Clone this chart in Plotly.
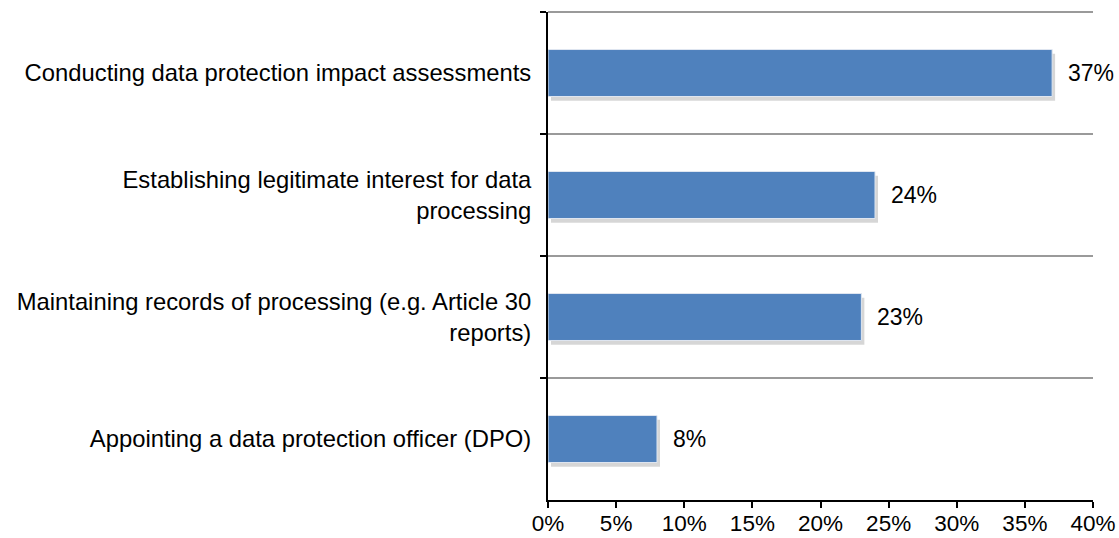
import plotly.graph_objects as go

# Survey answers, top to bottom as shown in the chart
categories = [
    "Conducting data protection impact assessments",
    "Establishing legitimate interest for data<br>processing",
    "Maintaining records of processing (e.g. Article 30<br>reports)",
    "Appointing a data protection officer (DPO)",
]
values = [37, 24, 23, 8]
x_ticks = [0, 5, 10, 15, 20, 25, 30, 35, 40]
x_tick_labels = [str(t) + "%" for t in x_ticks]

BAR_BLUE = "#4F81BD"
GRID_GRAY = "#9a9a9a"
FONT = "Liberation Sans, Arial, sans-serif"
BAR_W = 0.385

fig = go.Figure()

# soft drop shadow under each bar, nudged down and right
fig.add_trace(go.Bar(
    x=values,
    y=categories,
    orientation="h",
    base=0.22,
    width=BAR_W,
    offset=-BAR_W / 2 + 0.035,
    marker=dict(color="rgba(0,0,0,0.16)", line=dict(width=0)),
    hoverinfo="skip",
))

fig.add_trace(go.Bar(
    x=values,
    y=categories,
    orientation="h",
    width=BAR_W,
    marker=dict(color=BAR_BLUE, line=dict(color="#dfe6f0", width=1)),
    hoverinfo="skip",
))

# value labels to the right of each bar
for cat, val in zip(categories, values):
    fig.add_annotation(
        x=val, y=cat, text=str(val) + "%",
        xanchor="left", yanchor="middle", xshift=14,
        showarrow=False, font=dict(size=23, color="#000000", family=FONT),
    )

# top gridline (plotly leaves out the grid line on the plot edge)
fig.add_shape(type="line", xref="x domain", yref="y domain", x0=0, x1=1, y0=1, y1=1,
              line=dict(color=GRID_GRAY, width=2), layer="above")

fig.update_layout(
    width=1119,
    height=538,
    margin=dict(l=548, r=26, t=12, b=38),
    paper_bgcolor="white",
    plot_bgcolor="white",
    showlegend=False,
    barmode="overlay",
    font=dict(family=FONT, size=23, color="#000000"),
)

fig.update_xaxes(
    range=[0, 40],
    tickvals=x_ticks,
    ticktext=x_tick_labels,
    tickfont=dict(size=22.5),
    showgrid=False,
    zeroline=False,
    showline=True,
    linecolor="#000000",
    linewidth=2,
    ticks="outside",
    ticklen=6,
    tickwidth=2,
    tickcolor="#000000",
    ticklabelstandoff=-4,
    automargin=False,
    fixedrange=True,
)

fig.update_yaxes(
    type="category",
    autorange="reversed",
    tickson="boundaries",
    tickfont=dict(size=23.8),
    showgrid=True,
    gridcolor=GRID_GRAY,
    gridwidth=2,
    showline=True,
    linecolor="#000000",
    linewidth=2,
    ticks="outside",
    ticklen=6,
    tickwidth=2,
    tickcolor="#000000",
    ticklabelstandoff=10,
    automargin=False,
    fixedrange=True,
)

# the page's default body margin would push the fixed-size figure off the window
fig.write_html("out.html", config={"displayModeBar": False},
               post_script="document.body.style.margin = '0';")
